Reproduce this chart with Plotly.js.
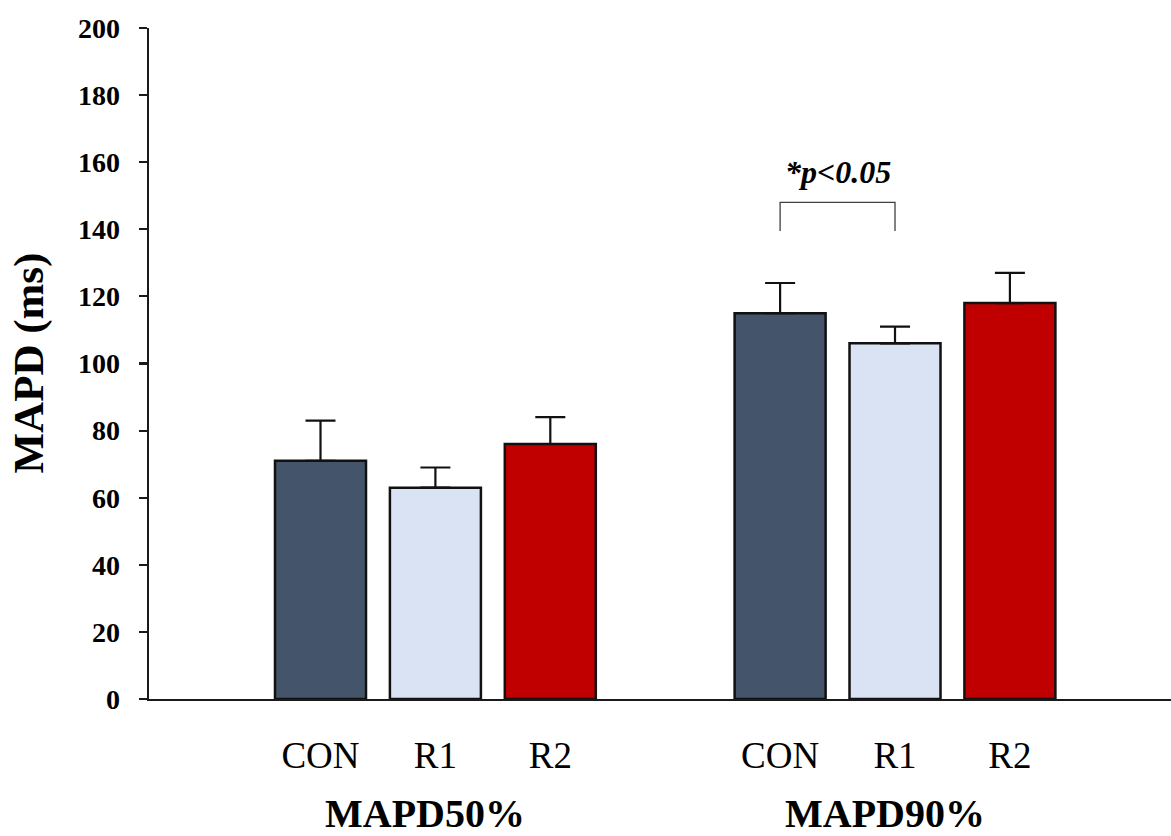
<!DOCTYPE html>
<html>
<head>
<meta charset="utf-8">
<script src="https://cdn.plot.ly/plotly-3.0.1.min.js"></script>
<style>html,body{margin:0;padding:0;background:#fff;}#chart{width:1171px;height:836px;}</style>
</head>
<body>
<div id="chart"></div>
<script>
// ---- data ----
var groups = ["MAPD50%", "MAPD90%"];
var series = ["CON", "R1", "R2"];
var colors = ["#44546A", "#DAE3F3", "#C00000"];
var means = {
  "CON": [71, 115],
  "R1":  [63, 106],
  "R2":  [76, 118]
};
var errs = {
  "CON": [12, 9],
  "R1":  [6, 5],
  "R2":  [8, 9]
};
var yTicks = [0, 20, 40, 60, 80, 100, 120, 140, 160, 180, 200];
var sigText = "*p<0.05";
var sigPair = [0, 1];   // series indices compared in group 2
var sigGroup = 1;
var sigBracket = [139.5, 148];

// ---- layout helpers ----
var slot = series.length + 1;
function pos(g, s) { return g * slot + s; }

var traces = series.map(function (name, s) {
  return {
    type: "bar",
    name: name,
    x: groups.map(function (_, g) { return pos(g, s); }),
    y: means[name],
    width: 0.792,
    marker: { color: colors[s], line: { color: "#111", width: 2.5 } },
    error_y: {
      type: "data", symmetric: false,
      array: errs[name],
      arrayminus: errs[name].map(function () { return 0; }),
      color: "#111", thickness: 2.2, width: 15
    },
    hoverinfo: "none"
  };
});

var tickvals = [], ticktext = [];
groups.forEach(function (_, g) {
  series.forEach(function (name, s) { tickvals.push(pos(g, s)); ticktext.push(name); });
});

var serif = "Liberation Serif, Times New Roman, serif";

var annotations = groups.map(function (name, g) {
  return {
    text: name, xref: "x", yref: "paper",
    x: pos(g, (series.length - 1) / 2), y: 0, yanchor: "bottom", xanchor: "center",
    yshift: -139, xshift: -10, showarrow: false,
    font: { family: serif, size: 40, color: "#000", weight: "bold" }
  };
});
annotations.push({
  text: "MAPD (ms)", xref: "paper", yref: "paper", x: 0, y: 0.5,
  xanchor: "center", yanchor: "middle", xshift: -121, textangle: -90, showarrow: false,
  font: { family: serif, size: 43, color: "#000", weight: "bold" }
});
var sx0 = pos(sigGroup, sigPair[0]), sx1 = pos(sigGroup, sigPair[1]);
annotations.push({
  text: "<i>" + sigText + "</i>", xref: "x", yref: "y",
  x: (sx0 + sx1) / 2, y: sigBracket[1] + 9, xanchor: "center", yanchor: "middle",
  showarrow: false,
  font: { family: serif, size: 32, color: "#000", weight: "bold" }
});

var shapes = [{
  type: "path", xref: "x", yref: "y",
  path: "M " + sx0 + " " + sigBracket[0] + " L " + sx0 + " " + sigBracket[1] +
        " L " + sx1 + " " + sigBracket[1] + " L " + sx1 + " " + sigBracket[0],
  line: { color: "#404040", width: 1.3 }
}];

var layout = {
  width: 1171, height: 836,
  margin: { l: 149, r: 0, t: 28, b: 137 },
  paper_bgcolor: "#fff", plot_bgcolor: "#fff",
  barmode: "overlay",
  showlegend: false,
  xaxis: {
    range: [-1.4926, 7.402],
    tickmode: "array", tickvals: tickvals, ticktext: ticktext,
    ticks: "", showgrid: false, zeroline: false,
    showline: true, linecolor: "#1a1a1a", linewidth: 2.4,
    ticklabelstandoff: 22,
    tickfont: { family: serif, size: 37, color: "#000" },
    fixedrange: true
  },
  yaxis: {
    range: [0, 200],
    tickmode: "array", tickvals: yTicks,
    ticks: "outside", ticklen: 8, tickwidth: 2.2, tickcolor: "#1a1a1a",
    showgrid: false, zeroline: false,
    showline: true, linecolor: "#1a1a1a", linewidth: 2.4,
    ticklabelstandoff: 13,
    tickfont: { family: serif, size: 28, color: "#000", weight: "bold" },
    fixedrange: true
  },
  annotations: annotations,
  shapes: shapes
};

Plotly.newPlot("chart", traces, layout, { displayModeBar: false, staticPlot: true });
</script>
</body>
</html>
